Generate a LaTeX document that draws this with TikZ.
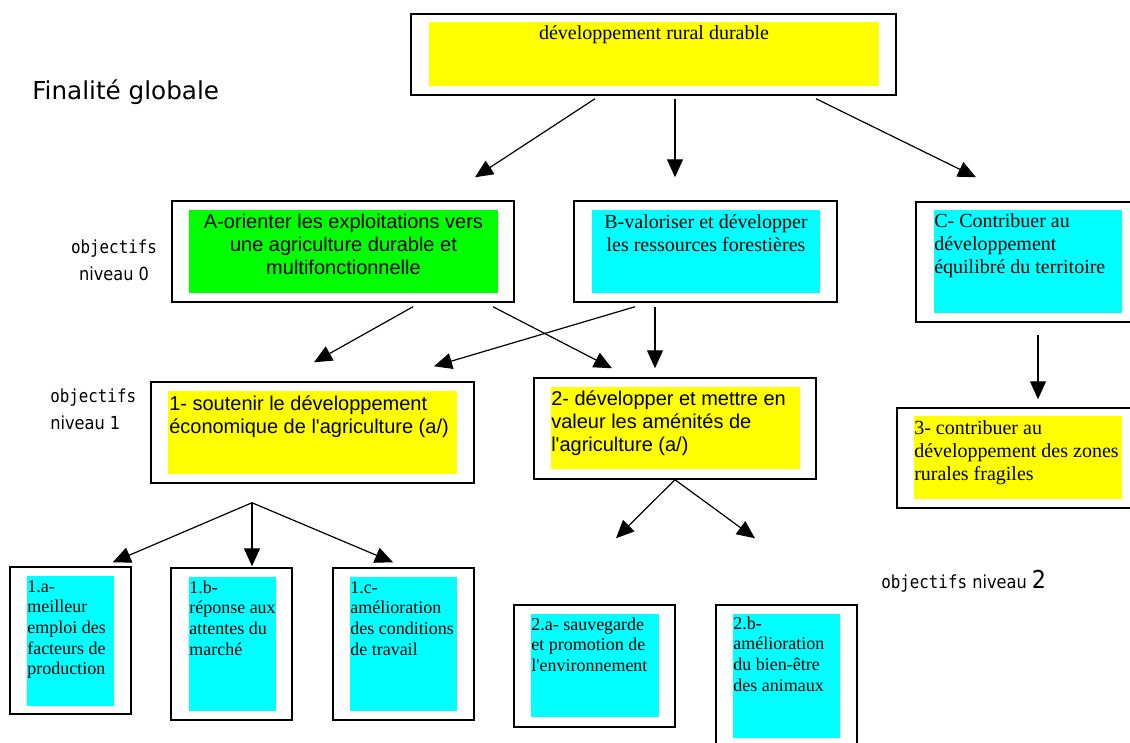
\documentclass[tikz,border=0pt]{standalone}
\usepackage{fontspec}
\setmainfont{Liberation Serif}
\newfontfamily\arialf{Liberation Sans}
\newfontfamily\dvsans[FakeStretch=0.9]{DejaVu Sans}
\newfontfamily\dvsansw{DejaVu Sans}
\newfontfamily\dvmono[FakeStretch=0.88]{DejaVu Sans Mono}
\usetikzlibrary{arrows.meta,fit,calc}
\definecolor{cyel}{RGB}{255,255,0}
\definecolor{cgrn}{RGB}{0,255,0}
\definecolor{ccya}{RGB}{0,255,255}
\newcommand\Lleft[1]{\vtop{\halign{##\hfil\cr#1\crcr}}}
\newcommand\Lcent[1]{\vtop{\halign{\hfil##\hfil\cr#1\crcr}}}
\newcommand\apos{\XeTeXglyph\XeTeXcharglyph"27\relax}
\newcommand\fntA{\arialf\fontsize{15pt}{17.25pt}\selectfont}
\newcommand\fntT{\fontsize{15pt}{17.25pt}\selectfont}
\newcommand\fntS{\fontsize{13.5pt}{15.5pt}\selectfont}
\newcommand\fntL{\dvsans\fontsize{13.5pt}{20.5pt}\selectfont}
\tikzset{
  frame/.style={draw=black, line width=1.1pt, inner sep=0pt},
  fillY/.style={fill=cyel, inner sep=0pt},
  fillG/.style={fill=cgrn, inner sep=0pt},
  fillC/.style={fill=ccya, inner sep=0pt},
  txt/.style={inner sep=0pt, anchor=base},
  txtl/.style={inner sep=0pt, anchor=base west},
  arr/.style={line width=0.9pt, -{Triangle[length=13.5pt,width=12pt]}},
}
\begin{document}
\begin{tikzpicture}[x=0.75pt,y=-0.75pt]
\fill[white] (0,0) rectangle (1130,742);
\clip (0,0) rectangle (1130,742);

% labels
\node[txtl, font=\dvsansw\fontsize{18.5pt}{20pt}\selectfont] (fin) at (32,99) {Finalité globale};
\node[txt, font=\fntL] (lab0) at (114,253) {\Lcent{{\dvmono objectifs}\cr niveau 0}};
\node[txtl, font=\fntL] (lab1) at (50,402) {\Lleft{{\dvmono objectifs}\cr niveau 1}};
\node[txtl, font=\fntL] (lab2) at (881,588) {{\dvmono objectifs} niveau {\fontsize{18.5pt}{20pt}\selectfont 2}};

% top
\node[frame, fit={(411,14)(896,95)}] (top) {};
\node[fillY, fit={(429,22)(879,86)}] (topin) {};
\node[txt, font=\fntT] (toptxt) at (654,40) {développement rural durable};

% level 0
\node[frame, fit={(172,201)(514,302)}] (A) {};
\node[fillG, fit={(189,210)(498,293)}] (Ain) {};
\node[txt, font=\fntA] (Atxt) at (343.5,228) {\Lcent{A-orienter les exploitations vers\cr une agriculture durable et\cr multifonctionnelle}};

\node[frame, fit={(574,201)(837,302)}] (B) {};
\node[fillC, fit={(592,210)(820,293)}] (Bin) {};
\node[txt, font=\fntT] (Btxt) at (706,228) {\Lcent{B-valoriser et développer\cr les ressources forestières}};

\node[frame, fit={(916,202)(1140,322)}] (C) {};
\node[fillC, fit={(934,210)(1122,313)}] (Cin) {};
\node[txtl, font=\fntT] (Ctxt) at (934,227) {\Lleft{C- Contribuer au\cr développement\cr équilibré du territoire}};

% level 1
\node[frame, fit={(151,382)(474,483)}] (n1) {};
\node[fillY, fit={(168,391)(457,474)}] (n1in) {};
\node[txtl, font=\fntA] (n1txt) at (169,410) {\Lleft{1- soutenir le développement\cr économique de l\apos agriculture (a/)}};

\node[frame, fit={(534,378)(816,479)}] (n2) {};
\node[fillY, fit={(551,387)(800,469)}] (n2in) {};
\node[txtl, font=\fntA] (n2txt) at (551,405) {\Lleft{2- développer et mettre en\cr valeur les aménités de\cr l\apos agriculture (a/)}};

\node[frame, fit={(897,408)(1140,508)}] (n3) {};
\node[fillY, fit={(914,416)(1122,499)}] (n3in) {};
\node[txtl, font=\fntT] (n3txt) at (914,434) {\Lleft{3- contribuer au\cr développement des zones\cr rurales fragiles}};

% level 2
\node[frame, fit={(10,567)(131,714)}] (n1a) {};
\node[fillC, fit={(27,576)(114,706)}] (n1ain) {};
\node[txtl, font=\fntS] (n1atxt) at (27,592) {\Lleft{1.a-\cr meilleur\cr emploi des\cr facteurs de\cr production}};

\node[frame, fit={(171,568)(292,720)}] (n1b) {};
\node[fillC, fit={(189,577)(276,711)}] (n1bin) {};
\node[txtl, font=\fntS] (n1btxt) at (189,593) {\Lleft{1.b-\cr réponse aux\cr attentes du\cr marché}};

\node[frame, fit={(333,568)(474,720)}] (n1c) {};
\node[fillC, fit={(350,577)(457,711)}] (n1cin) {};
\node[txtl, font=\fntS] (n1ctxt) at (350,593) {\Lleft{1.c-\cr amélioration\cr des conditions\cr de travail}};

\node[frame, fit={(514,605)(675,727)}] (n2a) {};
\node[fillC, fit={(531,614)(659,717)}] (n2ain) {};
\node[txtl, font=\fntS] (n2atxt) at (531,630) {\Lleft{2.a- sauvegarde\cr et promotion de\cr l\apos environnement}};

\node[frame, fit={(716,605)(857,752)}] (n2b) {};
\node[fillC, fit={(733,614)(840,738)}] (n2bin) {};
\node[txtl, font=\fntS] (n2btxt) at (733,629) {\Lleft{2.b-\cr amélioration\cr du bien-être\cr des animaux}};

% arrows
\draw[arr] ($(top.south)+(-58.5,3)$) -- ($(A.north)+(132,-23)$);
\draw[arr] ($(top.south)+(21.5,3)$) -- ($(B.north)+(-30.5,-23)$);
\draw[arr] ($(top.south)+(162.5,3)$) -- ($(C.north)+(-52,-24)$);

\draw[arr] ($(A.south)+(70,4)$) -- ($(n1.north)+(1.5,-19)$);
\draw[arr] ($(A.south)+(150,4)$) -- ($(n2.north)+(-63,-9)$);
\draw[arr] ($(B.south)+(-70.5,4)$) -- ($(n1.north)+(121.5,-15)$);
\draw[arr] ($(B.south)+(-50.5,4)$) -- ($(n2.north)+(-20,-9)$);
\draw[arr] ($(C.south)+(10,12)$) -- ($(n3.north)+(19.5,-8)$);

\coordinate (f1) at ($(n1.south)+(-60.5,19)$);
\draw[arr] (f1) -- ($(n1a.north east)+(-19,-4)$);
\draw[arr] (f1) -- ($(n1b.north)+(20.5,-1)$);
\draw[arr] (f1) -- ($(n1c.north)+(-10.5,-5)$);

\draw[arr] (n2.south) -- ($(n2a.north)+(21.5,-66)$);
\draw[arr] (n2.south) -- ($(n2b.north)+(-31.5,-66)$);
\end{tikzpicture}
\end{document}
